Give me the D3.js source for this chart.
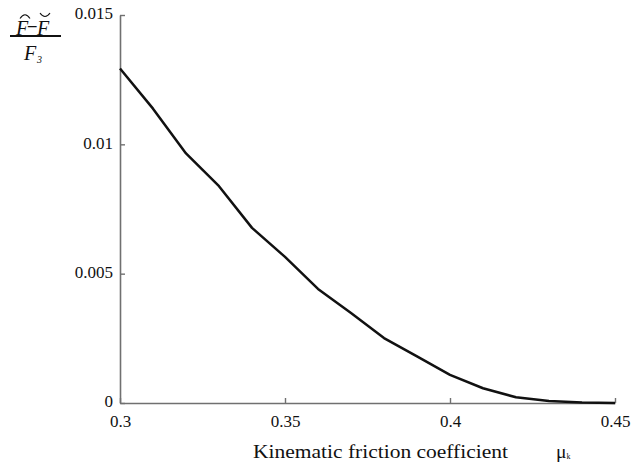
<!DOCTYPE html>
<html>
<head>
<meta charset="utf-8">
<script src="https://cdn.jsdelivr.net/npm/d3@7"></script>
<style>
  html, body { margin: 0; padding: 0; background: #fff; }
  svg { display: block; }
  text { font-family: "Liberation Serif", "Times New Roman", serif; fill: #111; }
</style>
</head>
<body>
<svg id="chart" width="632" height="463"></svg>
<script>
// Kinematic friction coefficient values (x) and the relative force difference (y)
const mu = [0.30, 0.31, 0.32, 0.33, 0.34, 0.35, 0.36, 0.37, 0.38, 0.39, 0.40, 0.41, 0.42, 0.43, 0.44, 0.45];
const relDiff = [0.01293, 0.01138, 0.00965, 0.00838, 0.00677, 0.00565, 0.00441, 0.00348, 0.00251, 0.00180,
                 0.00109, 0.00057, 0.00022, 0.00008, 0.00002, 0.00000];
const xTicks = [0.3, 0.35, 0.4, 0.45];
const xTickLabels = ["0.3", "0.35", "0.4", "0.45"];
const yTicks = [0, 0.005, 0.01, 0.015];
const yTickLabels = ["0", "0.005", "0.01", "0.015"];

const svg = d3.select("#chart");
const plotLeft = 120, plotRight = 615, plotTop = 15, plotBottom = 403;
const serif = "Liberation Serif";

const x = d3.scaleLinear().domain([0.3, 0.45]).range([plotLeft, plotRight]);
const y = d3.scaleLinear().domain([0, 0.015]).range([plotBottom, plotTop]);

const axisColor = "#707070";

// x axis: ticks point up into the plot
const xAxis = svg.append("g")
  .attr("transform", `translate(0,${plotBottom})`)
  .call(d3.axisBottom(x).tickValues(xTicks).tickFormat((d, i) => xTickLabels[i])
        .tickSizeInner(-5).tickSizeOuter(0).tickPadding(12));
xAxis.attr("font-family", serif).attr("font-size", 17);
xAxis.select(".domain").attr("stroke", axisColor).attr("stroke-width", 1.6);
xAxis.selectAll(".tick line").attr("stroke", axisColor).attr("stroke-width", 1.4);
xAxis.selectAll(".tick text").attr("font-family", serif).attr("font-size", 17)
  .attr("fill", "#111");

// y axis: ticks point right into the plot
const yAxis = svg.append("g")
  .attr("transform", `translate(${plotLeft},0)`)
  .call(d3.axisLeft(y).tickValues(yTicks).tickFormat((d, i) => yTickLabels[i])
        .tickSizeInner(-5).tickSizeOuter(0).tickPadding(7));
yAxis.attr("font-family", serif).attr("font-size", 17);
yAxis.select(".domain").attr("stroke", axisColor).attr("stroke-width", 1.6);
yAxis.selectAll(".tick line").attr("stroke", axisColor).attr("stroke-width", 1.4);
yAxis.selectAll(".tick text").attr("font-family", serif).attr("font-size", 17)
  .attr("fill", "#111")
  .attr("dy", "0.22em");

// curve
const line = d3.line().x((d, i) => x(mu[i])).y(d => y(d));
svg.append("path")
  .datum(relDiff)
  .attr("d", line)
  .attr("fill", "none")
  .attr("stroke", "#111")
  .attr("stroke-width", 2.5)
  .attr("stroke-linejoin", "round");

// x axis title
svg.append("text")
  .attr("x", 253).attr("y", 458)
  .attr("textLength", 255).attr("lengthAdjust", "spacingAndGlyphs")
  .style("font-size", "19.5px")
  .text("Kinematic friction coefficient");
const muLabel = svg.append("text").attr("x", 556).attr("y", 458).style("font-size", "19.5px");
muLabel.append("tspan").text("μ");
muLabel.append("tspan").style("font-size", "8px").attr("dy", "1").text("k");

// y axis title: fraction (F̂ − F̆) / F₃
const yl = svg.append("g");
yl.append("text").attr("x", 16).attr("y", 35)
  .style("font-size", "20px").style("font-style", "italic").text("F");
yl.append("text").attr("x", 28).attr("y", 31)
  .style("font-size", "17px").style("font-weight", "bold").text("–");
yl.append("text").attr("x", 37).attr("y", 35)
  .style("font-size", "20px").style("font-style", "italic").text("F");
// hat over the first F
yl.append("path").attr("d", "M20,18.5 Q25,11 30,18.5")
  .attr("fill", "none").attr("stroke", "#111").attr("stroke-width", 1.1);
// breve over the second F
yl.append("path").attr("d", "M40,13 Q45,20 50,13")
  .attr("fill", "none").attr("stroke", "#111").attr("stroke-width", 1.1);
// fraction bar
yl.append("line").attr("x1", 10).attr("x2", 61).attr("y1", 36).attr("y2", 36)
  .attr("stroke", "#111").attr("stroke-width", 2);
// denominator
yl.append("text").attr("x", 24).attr("y", 60)
  .style("font-size", "20px").style("font-style", "italic").text("F");
yl.append("text").attr("x", 37).attr("y", 63)
  .style("font-size", "10px").style("font-style", "italic").text("3");
</script>
</body>
</html>
